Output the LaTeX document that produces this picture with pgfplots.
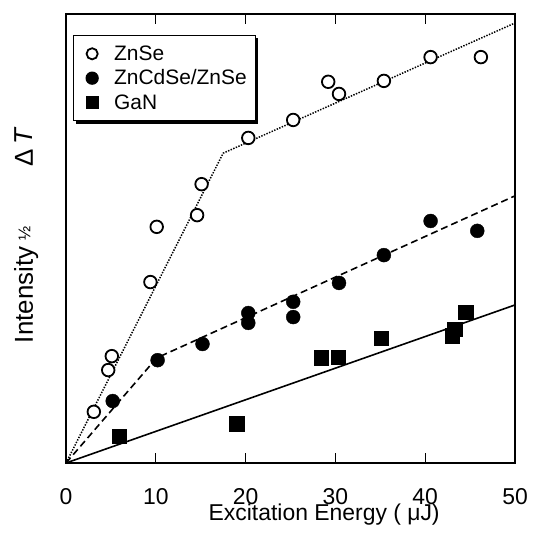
\documentclass[border=0pt]{standalone}
\usepackage{fontspec}
\setmainfont{Liberation Sans}
\usepackage{pgfplots}
\pgfplotsset{compat=1.18}

\begin{document}
\begin{tikzpicture}
\useasboundingbox (-66bp,-84bp) rectangle (472bp,463bp);
\begin{axis}[
    at={(0,0)}, anchor=south west,
    scale only axis,
    width=449bp, height=449bp,
    xmin=0, xmax=50, ymin=0, ymax=100,
    xtick={0,10,20,30,40,50},
    ytick=\empty,
    xtick pos=both, xticklabel pos=lower,
    tick align=inside,
    major tick length=10bp,
    every tick/.style={black, line width=1.2bp},
    axis line style={line width=1.6bp},
    /pgf/number format/assume math mode=true,
    xticklabel style={font=\fontsize{23}{23}\selectfont, inner sep=0pt, yshift=-25bp},
    xlabel={Excitation Energy ( μJ)},
    xlabel style={at={(axis description cs:0.575,0)}, anchor=north, inner sep=0pt,
                  yshift=-40.5bp, font=\fontsize{23}{23}\selectfont},
    ylabel={Intensity\hspace{0.25em}\raisebox{0.1em}{\fontsize{17}{17}\selectfont ½}\hspace{2.3em}Δ\hspace{0.2em}\textit{T}},
    ylabel style={at={(axis description cs:-0.0735,0.508)}, anchor=base,
                  font=\fontsize{26}{26}\selectfont},
    legend image code/.code={
      \path[draw=none, fill=none] (0bp,-9bp) rectangle (32bp,9bp);
      \draw[#1] plot coordinates {(12bp,0bp)};
    },
    legend style={name=leg, at={(0.0156,0.953)}, anchor=north west,
                  draw=black, line width=1.3bp, fill=white,
                  font=\fontsize{21}{21}\selectfont,
                  inner xsep=6.5bp, inner ysep=8bp,
                  cells={anchor=west}, row sep=4bp},
]
% fit lines
\addplot[forget plot, black, line width=1.5bp, dash pattern=on 1.4bp off 1.4bp] coordinates {
  (0,0) (17.5,69.0) (50,98.0)
};
\addplot[forget plot, black, line width=1.6bp, dash pattern=on 7bp off 4bp] coordinates {
  (0,0) (10.1,23.4) (50,59.5)
};
\addplot[forget plot, black, line width=1.6bp] coordinates {
  (0,0) (50,35.2)
};
% ZnSe
\addplot[forget plot, only marks, mark=*, mark size=6.3pt, draw=black, fill=white, line width=1.8bp] coordinates {
  (3.1,11.4) (4.7,20.7) (5.1,23.8) (9.4,40.3) (10.1,52.6) (14.6,55.2) (15.1,62.1)
  (20.3,72.4) (25.3,76.4) (29.2,84.9) (30.4,82.2) (35.4,85.1) (40.6,90.4) (46.2,90.4)
};
% ZnCdSe/ZnSe
\addplot[forget plot, only marks, mark=*, mark size=7pt, black] coordinates {
  (5.2,13.8) (10.2,22.9) (15.2,26.5) (20.3,33.4) (20.3,31.2) (25.3,35.9) (25.3,32.5)
  (30.4,40.1) (35.4,46.3) (40.6,53.9) (45.8,51.7)
};
% GaN
\addplot[forget plot, only marks, mark=square*, mark size=7.3pt, black] coordinates {
  (5.9,6.0) (19.0,8.7) (28.4,23.4) (30.3,23.6) (35.1,27.8) (43.0,28.3) (43.3,29.8) (44.5,33.6)
};
\addlegendimage{only marks, mark=*, mark size=5.6pt, draw=black, fill=white, line width=1.8bp}
\addlegendentry{ZnSe}
\addlegendimage{only marks, mark=*, mark size=6pt, black}
\addlegendentry{ZnCdSe/ZnSe}
\addlegendimage{only marks, mark=square*, mark size=6pt, black}
\addlegendentry{GaN}
\end{axis}
% legend drop shadow
\fill[black] ([yshift=-3bp]leg.north east) rectangle ([xshift=2.5bp]leg.south east);
\fill[black] ([xshift=3bp]leg.south west) rectangle ([xshift=2.5bp,yshift=-2.5bp]leg.south east);
\end{tikzpicture}
\end{document}
